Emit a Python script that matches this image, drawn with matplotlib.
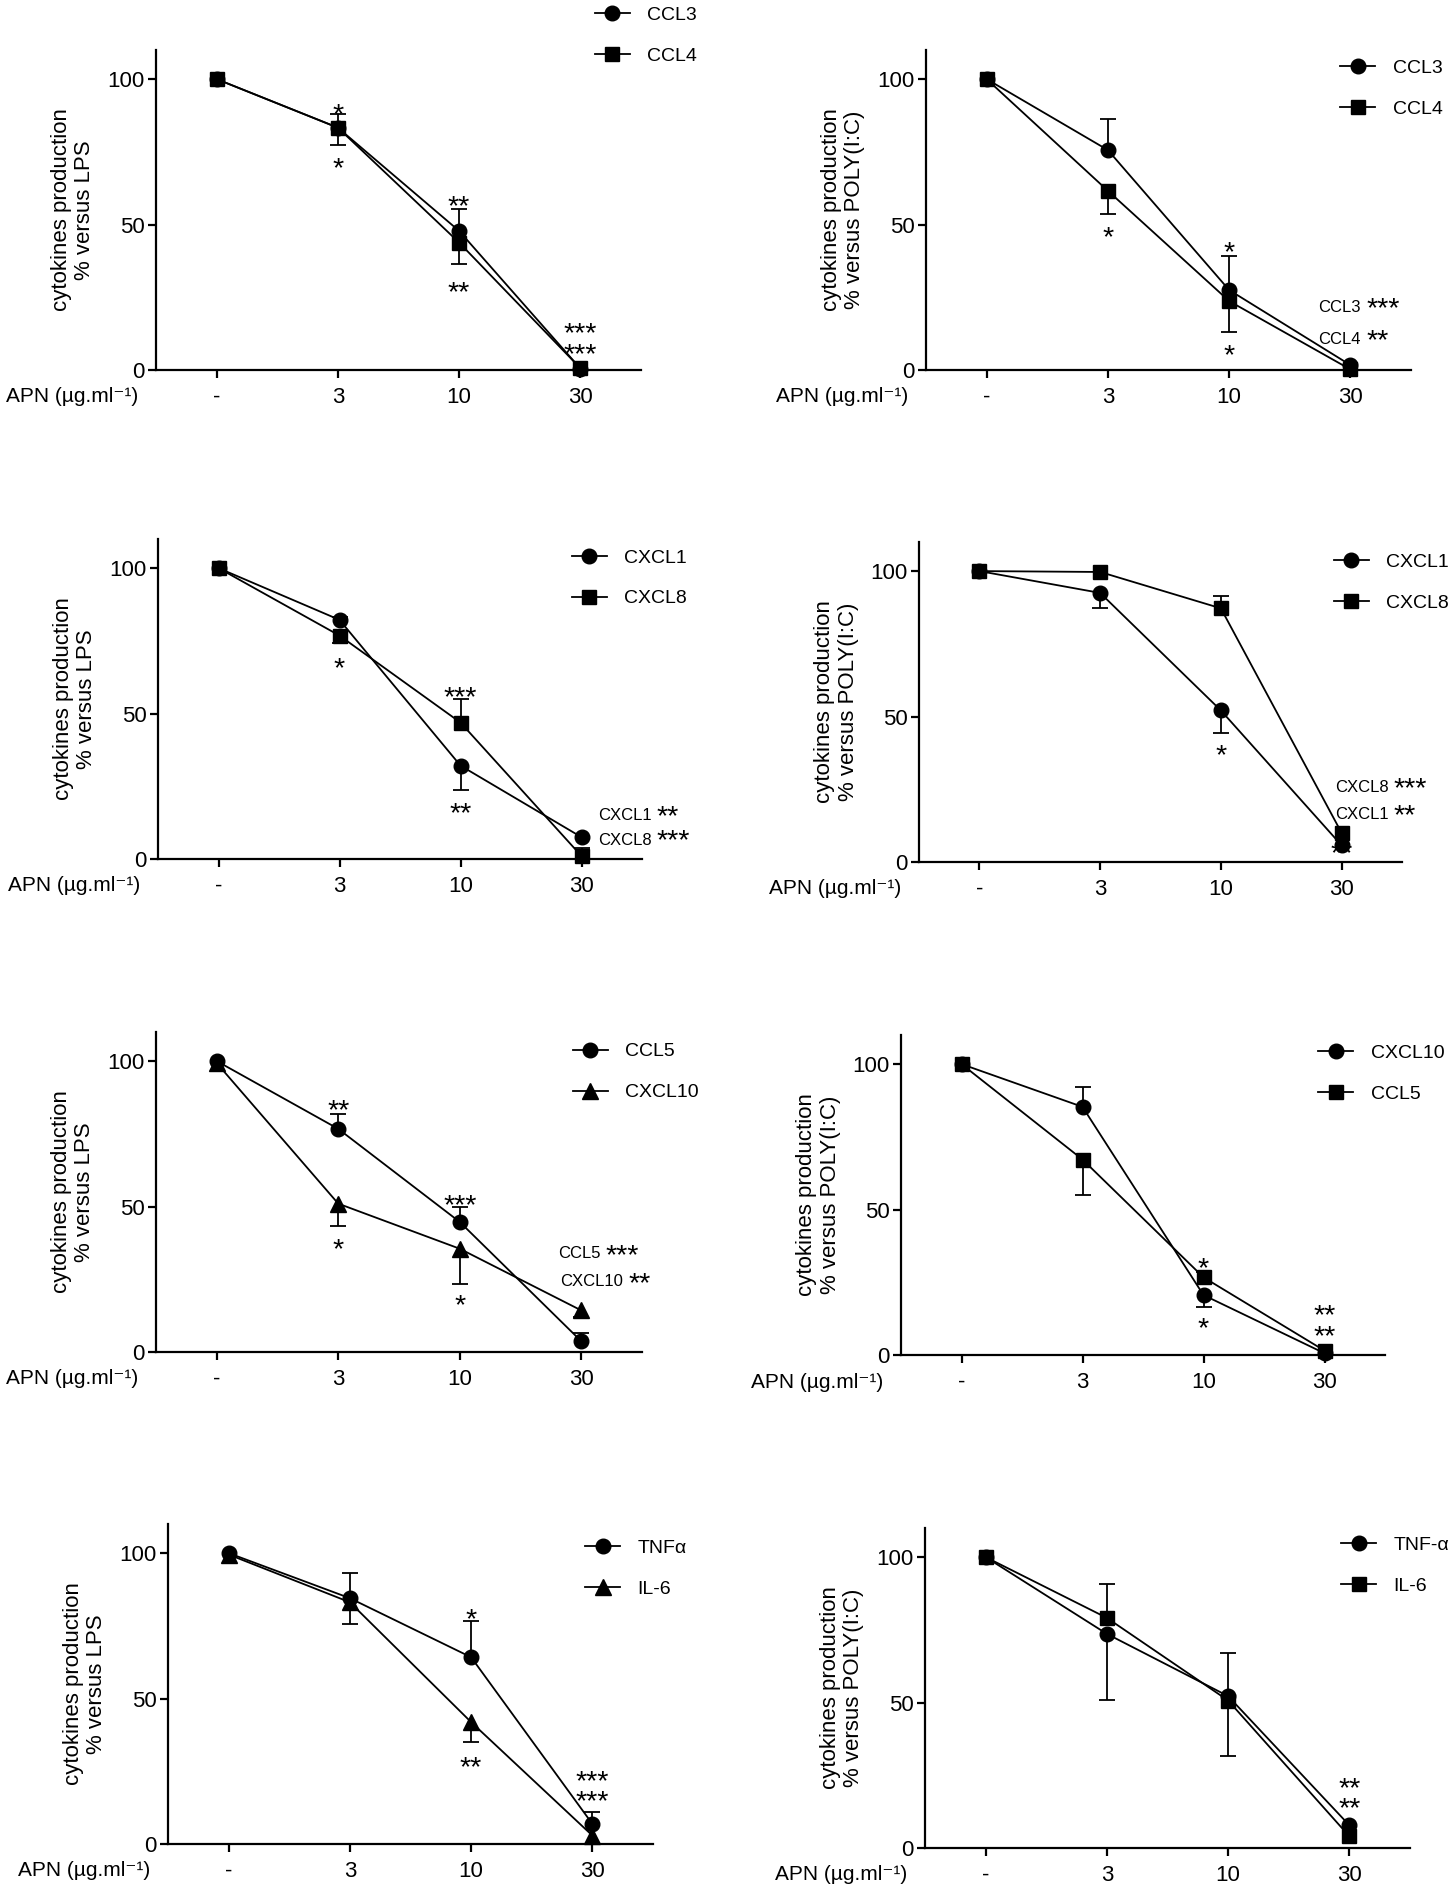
import numpy as np
import matplotlib
matplotlib.use('Agg')
import matplotlib.pyplot as plt

plt.rcParams['font.family'] = ['Liberation Sans', 'DejaVu Sans']

W, H, DPI = 1450, 1891, 100

# ---------------- data ----------------
doses = ['-', '3', '10', '30']
yticks = [0, 50, 100]

# LPS: CCL3 / CCL4
ccl3_lps = [100, 83.3, 47.8, 0.5]
ccl3_lps_lo = [0, 0, 0, 0]
ccl3_lps_hi = [0, 4.8, 7.4, 0]
ccl4_lps = [100, 83.3, 43.8, 0.6]
ccl4_lps_lo = [0, 5.8, 7.4, 0]
ccl4_lps_hi = [0, 0, 0, 0]

# POLY(I:C): CCL3 / CCL4
ccl3_pic = [100, 75.6, 27.5, 1.7]
ccl3_pic_lo = [0, 0, 0, 0]
ccl3_pic_hi = [0, 10.8, 11.8, 0]
ccl4_pic = [100, 61.6, 23.7, 0.2]
ccl4_pic_lo = [0, 8.0, 10.5, 0]
ccl4_pic_hi = [0, 0, 0, 0]

# LPS: CXCL1 / CXCL8
cxcl1_lps = [100, 82.2, 32.1, 7.5]
cxcl1_lps_lo = [0, 0, 8.4, 0]
cxcl1_lps_hi = [0, 1.0, 0, 0]
cxcl8_lps = [100, 76.8, 46.9, 1.0]
cxcl8_lps_lo = [0, 2.6, 0, 0]
cxcl8_lps_hi = [0, 0, 8.0, 2.9]

# POLY(I:C): CXCL1 / CXCL8
cxcl1_pic = [100, 92.5, 52.1, 5.7]
cxcl1_pic_lo = [0, 5.1, 7.7, 0]
cxcl1_pic_hi = [0, 0, 0, 0]
cxcl8_pic = [100, 99.7, 87.2, 10.0]
cxcl8_pic_lo = [0, 0, 0, 0]
cxcl8_pic_hi = [0, 0, 4.4, 0]

# LPS: CCL5 / CXCL10
ccl5_lps = [100, 76.7, 44.7, 3.7]
ccl5_lps_lo = [0, 0, 0, 0]
ccl5_lps_hi = [0, 5.0, 5.1, 2.8]
cxcl10_lps = [99.3, 51.0, 35.5, 14.3]
cxcl10_lps_lo = [0, 7.6, 12.0, 2.3]
cxcl10_lps_hi = [0, 0, 0, 0]

# POLY(I:C): CXCL10 / CCL5
cxcl10_pic = [100, 85.3, 20.6, 0.6]
cxcl10_pic_lo = [0, 0, 4.0, 0]
cxcl10_pic_hi = [0, 6.9, 0, 0]
ccl5_pic = [100, 67.2, 26.7, 1.5]
ccl5_pic_lo = [0, 12.2, 0, 0]
ccl5_pic_hi = [0, 0, 1.9, 0]

# LPS: TNFa / IL-6
tnfa_lps = [100, 84.5, 64.2, 6.9]
tnfa_lps_lo = [0, 0, 0, 0]
tnfa_lps_hi = [0, 8.6, 12.4, 4.0]
il6_lps = [99.5, 83.1, 41.9, 2.9]
il6_lps_lo = [0, 7.4, 6.9, 0]
il6_lps_hi = [0, 0, 0, 0]

# POLY(I:C): TNF-a / IL-6
tnfa_pic = [100, 73.6, 52.2, 7.8]
tnfa_pic_lo = [0, 22.8, 20.7, 0]
tnfa_pic_hi = [0, 0, 0, 0]
il6_pic = [100, 79.1, 50.7, 4.0]
il6_pic_lo = [0, 0, 0, 0]
il6_pic_hi = [0, 11.8, 16.2, 0]

# significance stars: (dose index, y of the (lowest) star row, text)
stars_1 = [(1, 90.7, '*'), (1, 72.4, '*'), (2, 59.3, '**'), (2, 29.6, '**'),
           (3, 8.5, '***\n***')]
stars_2 = [(1, 48.7, '*'), (2, 43.5, '*'), (2, 8.0, '*')]
stars_3 = [(1, 68.5, '*'), (2, 58.4, '***'), (2, 18.6, '**')]
stars_4 = [(2, 39.8, '*'), (3, 6.0, '**')]
stars_5 = [(1, 85.9, '**'), (1, 38.4, '*'), (2, 53.5, '***'), (2, 18.9, '*')]
stars_6 = [(2, 32.6, '*'), (2, 12.0, '*'), (3, 9.5, '**\n**')]
stars_7 = [(2, 80.3, '*'), (2, 29.2, '**'), (3, 17.5, '***\n***')]
stars_8 = [(3, 16.5, '**\n**')]

# labelled stars at the 30 dose: (name, stars, split x, label y, star y)
named_2 = [('CCL3', '***', 3.11, 21.4, 24.0), ('CCL4', '**', 3.11, 10.6, 13.2)]
named_3 = [('CXCL1', '**', 3.60, 15.1, 17.7), ('CXCL8', '***', 3.60, 6.5, 9.4)]
named_4 = [('CXCL8', '***', 3.41, 25.5, 28.4), ('CXCL1', '**', 3.41, 16.3, 18.9)]
named_5 = [('CCL5', '***', 3.18, 33.8, 36.3), ('CXCL10', '**', 3.37, 24.1, 26.7)]

# ---------------- layout ----------------
# axes rectangles in pixels: (left, bottom-from-top, right); height is fixed
rects = [(156, 370, 641), (926, 370, 1411),
         (158, 859, 642), (919, 862, 1402),
         (156, 1352, 642), (901, 1355, 1385),
         (168, 1844, 653), (925, 1848, 1410)]
AX_H = 320
# legend: (handle x in axes frac, first entry centre in axes frac)
legpos = [(0.905, 1.103), (0.854, 0.937),
          (0.855, 0.935), (0.859, 0.930),
          (0.858, 0.932), (0.862, 0.937),
          (0.860, 0.919), (0.858, 0.940)]

panels = [
    ('LPS', [('CCL3', 'o', ccl3_lps, ccl3_lps_lo, ccl3_lps_hi),
             ('CCL4', 's', ccl4_lps, ccl4_lps_lo, ccl4_lps_hi)], stars_1, []),
    ('POLY(I:C)', [('CCL3', 'o', ccl3_pic, ccl3_pic_lo, ccl3_pic_hi),
                   ('CCL4', 's', ccl4_pic, ccl4_pic_lo, ccl4_pic_hi)], stars_2, named_2),
    ('LPS', [('CXCL1', 'o', cxcl1_lps, cxcl1_lps_lo, cxcl1_lps_hi),
             ('CXCL8', 's', cxcl8_lps, cxcl8_lps_lo, cxcl8_lps_hi)], stars_3, named_3),
    ('POLY(I:C)', [('CXCL1', 'o', cxcl1_pic, cxcl1_pic_lo, cxcl1_pic_hi),
                   ('CXCL8', 's', cxcl8_pic, cxcl8_pic_lo, cxcl8_pic_hi)], stars_4, named_4),
    ('LPS', [('CCL5', 'o', ccl5_lps, ccl5_lps_lo, ccl5_lps_hi),
             ('CXCL10', '^', cxcl10_lps, cxcl10_lps_lo, cxcl10_lps_hi)], stars_5, named_5),
    ('POLY(I:C)', [('CXCL10', 'o', cxcl10_pic, cxcl10_pic_lo, cxcl10_pic_hi),
                   ('CCL5', 's', ccl5_pic, ccl5_pic_lo, ccl5_pic_hi)], stars_6, []),
    ('LPS', [('TNFα', 'o', tnfa_lps, tnfa_lps_lo, tnfa_lps_hi),
             ('IL-6', '^', il6_lps, il6_lps_lo, il6_lps_hi)], stars_7, []),
    ('POLY(I:C)', [('TNF-α', 'o', tnfa_pic, tnfa_pic_lo, tnfa_pic_hi),
                   ('IL-6', 's', il6_pic, il6_pic_lo, il6_pic_hi)], stars_8, []),
]

LW_AX = 1.6
LW = 1.3
MS = {'o': 10.5, 's': 10, '^': 11}
CAP = 11
TICK_FS = 16
APN_FS = 15
LAB_FS = 16
LEG_FS = 14
STAR_FS = 20.5
STACK_LS = 0.72
NAME_FS = 12

fig = plt.figure(figsize=(W / DPI, H / DPI), dpi=DPI)
x_pos = np.arange(len(doses))

for (stim, series, stars, named), (x0, yb, x1), (lx, ly) in zip(panels, rects, legpos):
    ax = fig.add_axes([x0 / W, 1 - yb / H, (x1 - x0) / W, AX_H / H])
    handles = []
    for name, mk, vals, lo, hi in series:
        v = np.asarray(vals, float)
        for err, sgn in ((np.asarray(hi, float), 1), (np.asarray(lo, float), -1)):
            m = err > 0
            if m.any():
                ends = v[m] + sgn * err[m]
                ax.vlines(x_pos[m], v[m], ends, colors='black', lw=LW, zorder=2)
                ax.plot(x_pos[m], ends, ls='none', marker='_', ms=CAP, mew=LW,
                        color='black', zorder=2, clip_on=False)
        ln, = ax.plot(x_pos, v, color='black', lw=LW, marker=mk, ms=MS[mk],
                      markerfacecolor='black', markeredgecolor='black',
                      zorder=3, clip_on=False, label=name)
        handles.append(ln)

    ax.set_xlim(-0.5, 3.5)
    ax.set_ylim(0, 110)
    ax.set_xticks(x_pos)
    ax.set_xticklabels(doses)
    ax.set_yticks(yticks)
    for s in ('top', 'right'):
        ax.spines[s].set_visible(False)
    for s in ('left', 'bottom'):
        ax.spines[s].set_linewidth(LW_AX)
    ax.tick_params(axis='both', direction='out', length=6, width=LW_AX,
                   labelsize=TICK_FS, color='black')
    ax.tick_params(axis='x', pad=6)
    ax.tick_params(axis='y', pad=2)
    ax.set_ylabel('cytokines production\n% versus ' + stim, fontsize=LAB_FS,
                  linespacing=1.15)
    ax.yaxis.set_label_coords(-0.125, 0.5)

    ax.annotate('APN (µg.ml⁻¹)', xy=(0, 0), xycoords='axes fraction',
                xytext=(-150, -27), textcoords='offset pixels', ha='left', va='center',
                fontsize=APN_FS, annotation_clip=False)

    for xi, yv, txt in stars:
        ax.annotate(txt, xy=(xi, yv), xytext=(0, -0.58 * STAR_FS), textcoords='offset points',
                    ha='center', va='baseline', fontsize=STAR_FS, zorder=1,
                    linespacing=STACK_LS, multialignment='center',
                    annotation_clip=False)
    for nm, st, xs, yl, ys in named:
        ax.annotate(nm, xy=(xs, yl), xytext=(-2, 0), textcoords='offset points',
                    ha='right', va='center', fontsize=NAME_FS, annotation_clip=False)
        ax.annotate(st, xy=(xs, ys), xytext=(2, -0.58 * STAR_FS), textcoords='offset points',
                    ha='left', va='baseline', fontsize=STAR_FS, annotation_clip=False)

    ax.legend(handles=handles, loc='upper left', bbox_to_anchor=(lx, ly + 0.034),
              frameon=False, fontsize=LEG_FS, borderpad=0, borderaxespad=0,
              handlelength=1.8, handletextpad=0.9, labelspacing=1.2, numpoints=1)

fig.savefig('out.png', dpi=DPI)
